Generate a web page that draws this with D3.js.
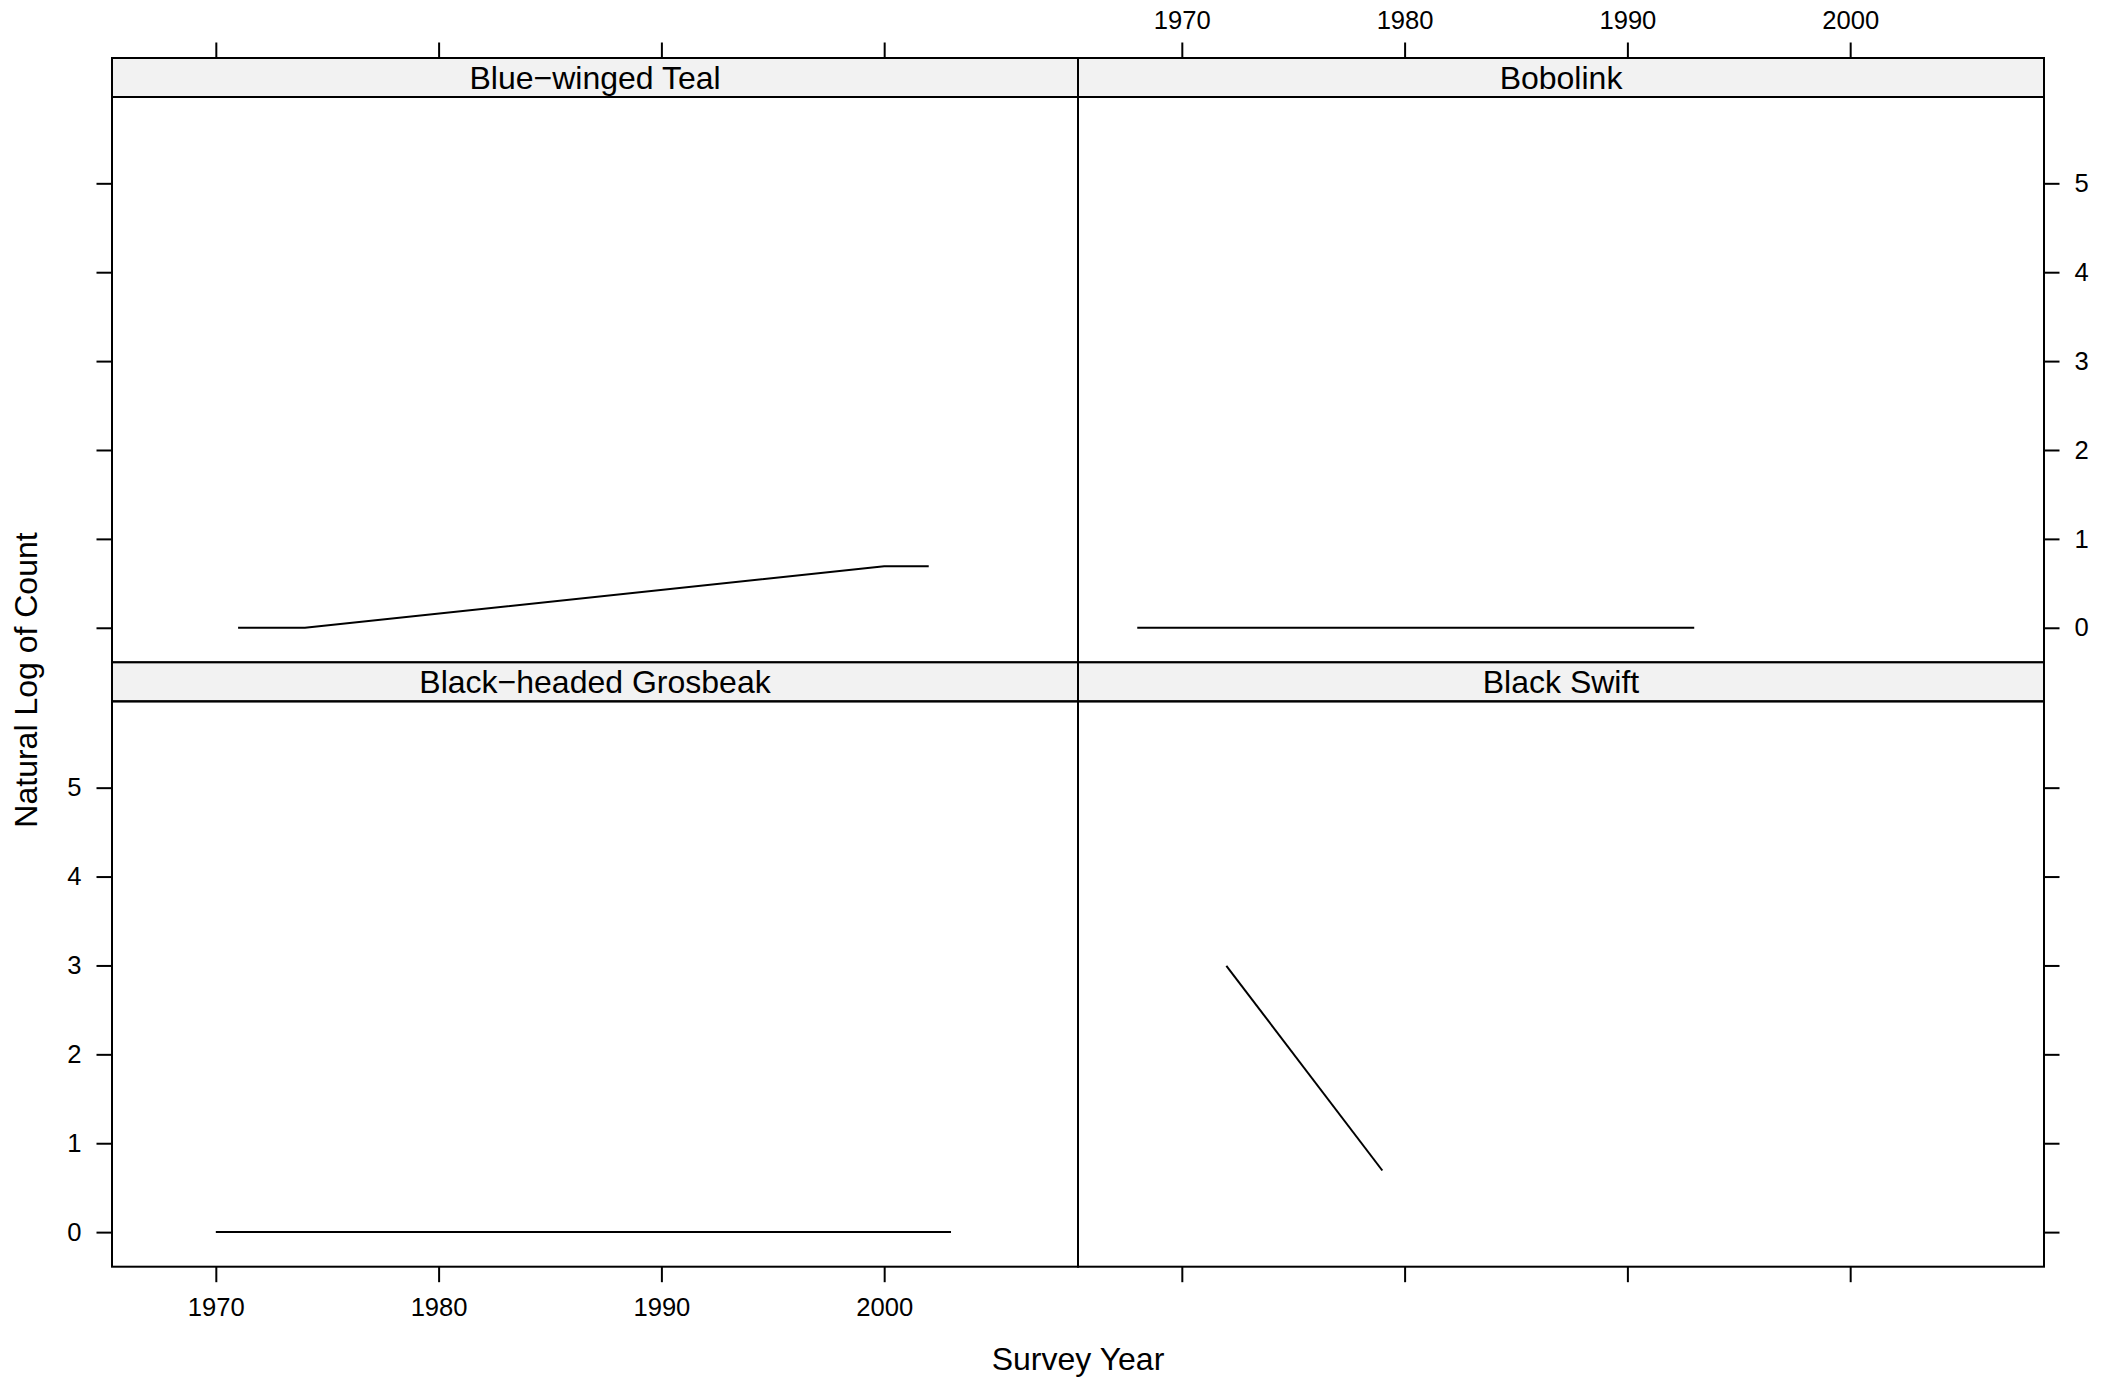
<!DOCTYPE html>
<html>
<head>
<meta charset="utf-8">
<script src="https://cdn.jsdelivr.net/npm/d3@7"></script>
<style>
  html, body { margin: 0; padding: 0; background: #fff; }
  svg { display: block; font-family: "Liberation Sans", Arial, Helvetica, sans-serif; }
</style>
</head>
<body>
<svg id="chart" width="2114" height="1378"></svg>
<script>
// ---- data ----
const panelTitles = ["Blue\u2212winged Teal", "Bobolink", "Black\u2212headed Grosbeak", "Black Swift"];
const tealYears = [1971, 1974, 2000, 2002];
const tealLogCount = [0, 0, 0.693, 0.693];
const bobolinkYears = [1968, 1993];
const bobolinkLogCount = [0, 0];
const grosbeakYears = [1970, 2003];
const grosbeakLogCount = [0, 0];
const swiftYears = [1972, 1979];
const swiftLogCount = [2.996, 0.693];
const xTicks = [1970, 1980, 1990, 2000];
const yTicks = [0, 1, 2, 3, 4, 5];
const xTitle = "Survey Year";
const yTitle = "Natural Log of Count";

// ---- layout ----
const svg = d3.select("#chart");
const plotL = 112, plotR = 2044, plotT = 58, plotB = 1266.7;
const colW = (plotR - plotL) / 2;
const stripH = 39;
const rowH = (plotB - plotT) / 2;
const panelH = rowH - stripH;

const x = d3.scaleLinear().domain([1965.34, 2008.7]).range([0, colW]);
const y = d3.scaleLinear().domain([-0.389, 5.971]).range([panelH, 0]);

const panels = [
  { title: panelTitles[0], years: tealYears, vals: tealLogCount, col: 0, row: 0 },
  { title: panelTitles[1], years: bobolinkYears, vals: bobolinkLogCount, col: 1, row: 0 },
  { title: panelTitles[2], years: grosbeakYears, vals: grosbeakLogCount, col: 0, row: 1 },
  { title: panelTitles[3], years: swiftYears, vals: swiftLogCount, col: 1, row: 1 }
];

const tickFont = 25.6, titleFont = 32, lw = 2, tickLen = 15.5;

const line = d3.line().x(d => x(d[0])).y(d => y(d[1]));

function styleAxis(sel, showLabels) {
  sel.select(".domain").remove();
  sel.selectAll(".tick line").attr("stroke", "#000").attr("stroke-width", lw);
  sel.selectAll(".tick text").attr("font-size", tickFont).attr("fill", "#000")
    .attr("font-family", "Liberation Sans, Arial, Helvetica, sans-serif");
  if (!showLabels) sel.selectAll(".tick text").remove();
}

panels.forEach(p => {
  const gx = plotL + p.col * colW;
  const gy = plotT + p.row * rowH;
  const g = svg.append("g").attr("transform", `translate(${gx},${gy})`);
  // strip
  g.append("rect").attr("x", 0).attr("y", 0).attr("width", colW).attr("height", stripH)
    .attr("fill", "#f2f2f2").attr("stroke", "#000").attr("stroke-width", lw);
  g.append("text").attr("x", colW / 2).attr("y", stripH / 2).attr("dy", "0.35em")
    .attr("text-anchor", "middle").attr("font-size", titleFont).attr("fill", "#000").text(p.title);
  // panel
  const pg = g.append("g").attr("transform", `translate(0,${stripH})`);
  pg.append("path").datum(p.years.map((yr, i) => [yr, p.vals[i]]))
    .attr("d", line).attr("fill", "none").attr("stroke", "#000").attr("stroke-width", lw);
  pg.append("rect").attr("x", 0).attr("y", 0).attr("width", colW).attr("height", panelH)
    .attr("fill", "none").attr("stroke", "#000").attr("stroke-width", lw);

  if (p.row === 0) {
    const ax = d3.axisTop(x).tickValues(xTicks).tickFormat(d3.format("d")).tickSize(tickLen).tickPadding(14);
    g.append("g").call(ax).call(s => styleAxis(s, p.col === 1));
  } else {
    const ax = d3.axisBottom(x).tickValues(xTicks).tickFormat(d3.format("d")).tickSize(tickLen).tickPadding(16);
    pg.append("g").attr("transform", `translate(0,${panelH})`).call(ax).call(s => styleAxis(s, p.col === 0));
  }
  if (p.col === 0) {
    const ay = d3.axisLeft(y).tickValues(yTicks).tickFormat(d3.format("d")).tickSize(tickLen).tickPadding(15);
    pg.append("g").call(ay).call(s => styleAxis(s, p.row === 1));
  } else {
    const ay = d3.axisRight(y).tickValues(yTicks).tickFormat(d3.format("d")).tickSize(tickLen).tickPadding(15);
    pg.append("g").attr("transform", `translate(${colW},0)`).call(ay).call(s => styleAxis(s, p.row === 0));
  }
});

// axis titles
svg.append("text").attr("x", (plotL + plotR) / 2).attr("y", 1370)
  .attr("text-anchor", "middle").attr("font-size", titleFont).attr("fill", "#000").text(xTitle);
svg.append("text").attr("transform", `translate(37,680) rotate(-90)`)
  .attr("text-anchor", "middle").attr("font-size", titleFont).attr("fill", "#000").text(yTitle);
</script>
</body>
</html>
